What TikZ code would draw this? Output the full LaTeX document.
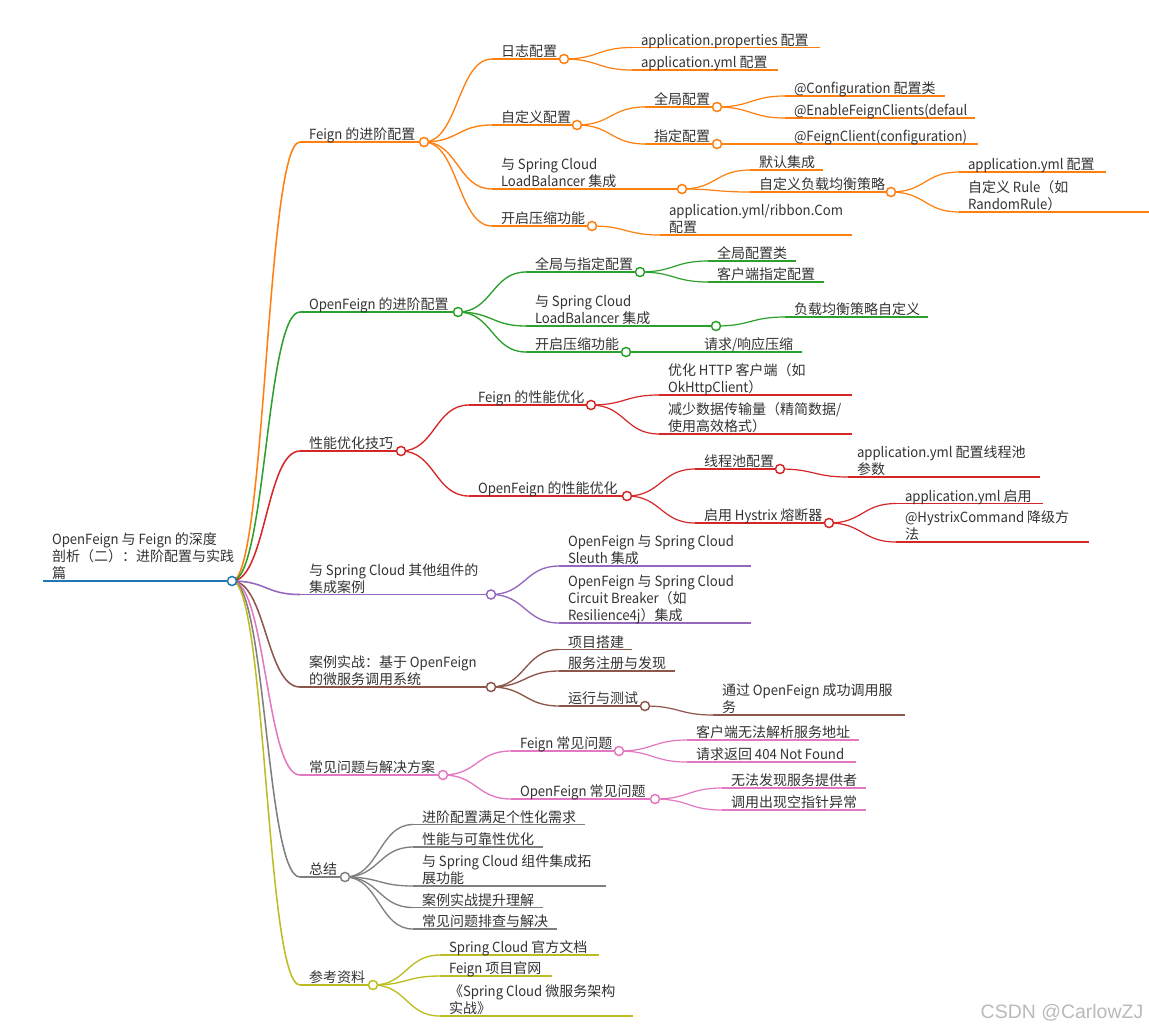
\documentclass[tikz,border=0pt]{standalone}
\usepackage{fontspec}
\setmainfont[FakeStretch=0.94]{Noto Sans CJK SC}
\newfontfamily\latf[FakeStretch=0.94]{Noto Sans CJK SC}
\newfontfamily\cjkf{Noto Sans CJK SC}
\newfontfamily\wmfont{Liberation Sans}
\XeTeXinterchartokenstate=1
\newXeTeXintercharclass\ClsCJK
\newcount\cjkcnt
\newcommand\setcjkrange[2]{\cjkcnt=#1\relax
  \loop\XeTeXcharclass\cjkcnt=\ClsCJK\relax\ifnum\cjkcnt<#2\relax\advance\cjkcnt by 1\relax\repeat}
\setcjkrange{"3000}{"303F}
\setcjkrange{"4E00}{"9FFF}
\setcjkrange{"FF00}{"FFEF}
\XeTeXinterchartoks 0 \ClsCJK = {\cjkf}
\XeTeXinterchartoks 4095 \ClsCJK = {\cjkf}
\XeTeXinterchartoks \ClsCJK 0 = {\latf}
\XeTeXinterchartoks \ClsCJK 4095 = {\latf}
\usetikzlibrary{calc}
\definecolor{cRoot}{HTML}{1F77B4}
\definecolor{cO}{HTML}{FF7F0E}
\definecolor{cG}{HTML}{2CA02C}
\definecolor{cR}{HTML}{D62728}
\definecolor{cP}{HTML}{9467BD}
\definecolor{cBr}{HTML}{8C564B}
\definecolor{cPk}{HTML}{E377C2}
\definecolor{cGy}{HTML}{7F7F7F}
\definecolor{cOl}{HTML}{BCBD22}
\definecolor{cT}{HTML}{333333}
\newcommand\ds{\vrule width 0pt height 0pt depth 3pt}
\newcommand\mmnode[6]{%
  \coordinate (#1-s) at (#3,#5);
  \coordinate (#1-e) at (#4,#5);
  \draw[#2] (#1-s) -- (#1-e);
  \node[txt] (#1) at ({#3+9},{#5+1.5}) {#6\ds};
}
\newcommand\mmlink[3]{\draw[#3] let \p1=(#1-e), \p2=(#2-s) in (\p1) .. controls ({0.5*\x1+0.5*\x2},\y1) and ({0.5*\x1+0.5*\x2},\y2) .. (\p2);}
\newcommand\mmdot[2]{\node[dot,draw=#2] (#1-c) at (#1-e) {};}
\begin{document}
\begin{tikzpicture}[x=0.75pt,y=-0.75pt,
  txt/.style={anchor=south west,inner sep=0pt,outer sep=0pt,align=left,text=cT,font=\latf\fontsize{10.5pt}{12.75pt}\selectfont},
  l0/.style={line width=1.8pt},
  l1/.style={line width=1.15pt},
  l2/.style={line width=1pt},
  l3/.style={line width=0.9pt},
  dot/.style={circle,fill=white,line width=1.1pt,inner sep=0pt,minimum size=6.8pt}]
\fill[white] (0,0) rectangle (1149,1033);
\useasboundingbox (0,0) rectangle (1149,1033);

% root
\mmnode{root}{cRoot,l0}{43}{232}{581}{OpenFeign 与 Feign 的深度\\剖析（二）：进阶配置与实践\\篇}

% level 1
\mmnode{A}{cO,l1}{300}{424}{142}{Feign 的进阶配置}
\mmnode{B}{cG,l1}{300}{458}{312}{OpenFeign 的进阶配置}
\mmnode{C}{cR,l1}{300}{401}{451}{性能优化技巧}
\mmnode{D}{cP,l1}{300}{491}{594.5}{与 Spring Cloud 其他组件的\\集成案例}
\mmnode{E}{cBr,l1}{300}{491}{687}{案例实战：基于 OpenFeign\\的微服务调用系统}
\mmnode{F}{cPk,l1}{300}{443}{775}{常见问题与解决方案}
\mmnode{G}{cGy,l1}{300}{345}{877}{总结}
\mmnode{H}{cOl,l1}{300}{373}{985}{参考资料}

% A: Feign advanced config
\mmnode{A1}{cO,l2}{492}{564}{59}{日志配置}
\mmnode{A1a}{cO,l3}{632}{820}{47.5}{application.properties 配置}
\mmnode{A1b}{cO,l3}{632}{778}{70}{application.yml 配置}
\mmnode{A2}{cO,l2}{492}{577}{125}{自定义配置}
\mmnode{A2a}{cO,l3}{645}{717}{107}{全局配置}
\mmnode{A2a1}{cO,l3}{785}{945}{96}{@Configuration 配置类}
\mmnode{A2a2}{cO,l3}{785}{975}{118}{@EnableFeignClients(defaul}
\mmnode{A2b}{cO,l3}{645}{717}{144}{指定配置}
\mmnode{A2b1}{cO,l3}{785}{978}{144}{@FeignClient(configuration)}
\mmnode{A3}{cO,l2}{492}{682}{189}{与 Spring Cloud\\LoadBalancer 集成}
\mmnode{A3a}{cO,l3}{750}{823}{170}{默认集成}
\mmnode{A3b}{cO,l3}{750}{891}{192}{自定义负载均衡策略}
\mmnode{A3b1}{cO,l3}{959}{1106}{172}{application.yml 配置}
\mmnode{A3b2}{cO,l3}{959}{1149}{212}{自定义 Rule（如\\RandomRule）}
\mmnode{A4}{cO,l2}{492}{592}{226}{开启压缩功能}
\mmnode{A4a}{cO,l3}{660}{852}{235}{application.yml/ribbon.Com\\配置}

% B: OpenFeign advanced config
\mmnode{B1}{cG,l2}{526}{640}{272}{全局与指定配置}
\mmnode{B1a}{cG,l3}{708}{796}{261}{全局配置类}
\mmnode{B1b}{cG,l3}{708}{824}{282}{客户端指定配置}
\mmnode{B2}{cG,l2}{526}{716}{326}{与 Spring Cloud\\LoadBalancer 集成}
\mmnode{B2a}{cG,l3}{785}{928}{317}{负载均衡策略自定义}
\mmnode{B3}{cG,l2}{526}{626}{352}{开启压缩功能}
\mmnode{B3a}{cG,l3}{695}{802}{352}{请求/响应压缩}

% C: performance
\mmnode{C1}{cR,l2}{469}{591}{405}{Feign 的性能优化}
\mmnode{C1a}{cR,l3}{659}{852}{395}{优化 HTTP 客户端（如\\OkHttpClient）}
\mmnode{C1b}{cR,l3}{659}{852}{434}{减少数据传输量（精简数据/\\使用高效格式）}
\mmnode{C2}{cR,l2}{469}{627}{496}{OpenFeign 的性能优化}
\mmnode{C2a}{cR,l3}{695}{780}{469}{线程池配置}
\mmnode{C2a1}{cR,l3}{848}{1040}{477}{application.yml 配置线程池\\参数}
\mmnode{C2b}{cR,l3}{695}{829}{523}{启用 Hystrix 熔断器}
\mmnode{C2b1}{cR,l3}{896}{1043}{503.5}{application.yml 启用}
\mmnode{C2b2}{cR,l3}{896}{1089}{542}{@HystrixCommand 降级方\\法}

% D: integration
\mmnode{D1}{cP,l2}{559}{751}{566}{OpenFeign 与 Spring Cloud\\Sleuth 集成}
\mmnode{D2}{cP,l2}{559}{751}{623}{OpenFeign 与 Spring Cloud\\Circuit Breaker（如\\Resilience4j）集成}

% E: case study
\mmnode{E1}{cBr,l2}{559}{632}{649.5}{项目搭建}
\mmnode{E2}{cBr,l2}{559}{675}{671}{服务注册与发现}
\mmnode{E3}{cBr,l2}{559}{645}{706}{运行与测试}
\mmnode{E3a}{cBr,l3}{713}{905}{715}{通过 OpenFeign 成功调用服\\务}

% F: problems
\mmnode{F1}{cPk,l2}{511}{619}{751}{Feign 常见问题}
\mmnode{F1a}{cPk,l3}{687}{859}{740}{客户端无法解析服务地址}
\mmnode{F1b}{cPk,l3}{687}{856}{762}{请求返回 404 Not Found}
\mmnode{F2}{cPk,l2}{511}{655}{799}{OpenFeign 常见问题}
\mmnode{F2a}{cPk,l3}{722}{866}{788}{无法发现服务提供者}
\mmnode{F2b}{cPk,l3}{722}{866}{810}{调用出现空指针异常}

% G: summary
\mmnode{G1}{cGy,l2}{413}{585}{824.5}{进阶配置满足个性化需求}
\mmnode{G2}{cGy,l2}{413}{543}{847}{性能与可靠性优化}
\mmnode{G3}{cGy,l2}{413}{606}{886}{与 Spring Cloud 组件集成拓\\展功能}
\mmnode{G4}{cGy,l2}{413}{543}{907.5}{案例实战提升理解}
\mmnode{G5}{cGy,l2}{413}{557}{929}{常见问题排查与解决}

% H: references
\mmnode{H1}{cOl,l2}{440}{599}{955}{Spring Cloud 官方文档}
\mmnode{H2}{cOl,l2}{440}{552}{976}{Feign 项目官网}
\mmnode{H3}{cOl,l2}{440}{633}{1016}{《Spring Cloud 微服务架构\\实战》}

% links
\mmlink{root}{A}{cO,l1}
\mmlink{root}{B}{cG,l1}
\mmlink{root}{C}{cR,l1}
\mmlink{root}{D}{cP,l1}
\mmlink{root}{E}{cBr,l1}
\mmlink{root}{F}{cPk,l1}
\mmlink{root}{G}{cGy,l1}
\mmlink{root}{H}{cOl,l1}

\mmlink{A}{A1}{cO,l2}
\mmlink{A}{A2}{cO,l2}
\mmlink{A}{A3}{cO,l2}
\mmlink{A}{A4}{cO,l2}
\mmlink{A1}{A1a}{cO,l3}
\mmlink{A1}{A1b}{cO,l3}
\mmlink{A2}{A2a}{cO,l3}
\mmlink{A2}{A2b}{cO,l3}
\mmlink{A2a}{A2a1}{cO,l3}
\mmlink{A2a}{A2a2}{cO,l3}
\mmlink{A2b}{A2b1}{cO,l3}
\mmlink{A3}{A3a}{cO,l3}
\mmlink{A3}{A3b}{cO,l3}
\mmlink{A3b}{A3b1}{cO,l3}
\mmlink{A3b}{A3b2}{cO,l3}
\mmlink{A4}{A4a}{cO,l3}

\mmlink{B}{B1}{cG,l2}
\mmlink{B}{B2}{cG,l2}
\mmlink{B}{B3}{cG,l2}
\mmlink{B1}{B1a}{cG,l3}
\mmlink{B1}{B1b}{cG,l3}
\mmlink{B2}{B2a}{cG,l3}
\mmlink{B3}{B3a}{cG,l3}

\mmlink{C}{C1}{cR,l2}
\mmlink{C}{C2}{cR,l2}
\mmlink{C1}{C1a}{cR,l3}
\mmlink{C1}{C1b}{cR,l3}
\mmlink{C2}{C2a}{cR,l3}
\mmlink{C2}{C2b}{cR,l3}
\mmlink{C2a}{C2a1}{cR,l3}
\mmlink{C2b}{C2b1}{cR,l3}
\mmlink{C2b}{C2b2}{cR,l3}

\mmlink{D}{D1}{cP,l2}
\mmlink{D}{D2}{cP,l2}

\mmlink{E}{E1}{cBr,l2}
\mmlink{E}{E2}{cBr,l2}
\mmlink{E}{E3}{cBr,l2}
\mmlink{E3}{E3a}{cBr,l3}

\mmlink{F}{F1}{cPk,l2}
\mmlink{F}{F2}{cPk,l2}
\mmlink{F1}{F1a}{cPk,l3}
\mmlink{F1}{F1b}{cPk,l3}
\mmlink{F2}{F2a}{cPk,l3}
\mmlink{F2}{F2b}{cPk,l3}

\mmlink{G}{G1}{cGy,l2}
\mmlink{G}{G2}{cGy,l2}
\mmlink{G}{G3}{cGy,l2}
\mmlink{G}{G4}{cGy,l2}
\mmlink{G}{G5}{cGy,l2}

\mmlink{H}{H1}{cOl,l2}
\mmlink{H}{H2}{cOl,l2}
\mmlink{H}{H3}{cOl,l2}

% junction dots
\mmdot{root}{cRoot}
\mmdot{A}{cO}
\mmdot{A1}{cO}
\mmdot{A2}{cO}
\mmdot{A2a}{cO}
\mmdot{A2b}{cO}
\mmdot{A3}{cO}
\mmdot{A3b}{cO}
\mmdot{A4}{cO}
\mmdot{B}{cG}
\mmdot{B1}{cG}
\mmdot{B2}{cG}
\mmdot{B3}{cG}
\mmdot{C}{cR}
\mmdot{C1}{cR}
\mmdot{C2}{cR}
\mmdot{C2a}{cR}
\mmdot{C2b}{cR}
\mmdot{D}{cP}
\mmdot{E}{cBr}
\mmdot{E3}{cBr}
\mmdot{F}{cPk}
\mmdot{F1}{cPk}
\mmdot{F2}{cPk}
\mmdot{G}{cGy}
\mmdot{H}{cOl}

% watermark
\node[inner sep=0pt,text=black!27,font=\wmfont\fontsize{14.6pt}{16pt}\selectfont] (wm) at (1062,1013) {CSDN @CarlowZJ};
\end{tikzpicture}
\end{document}
